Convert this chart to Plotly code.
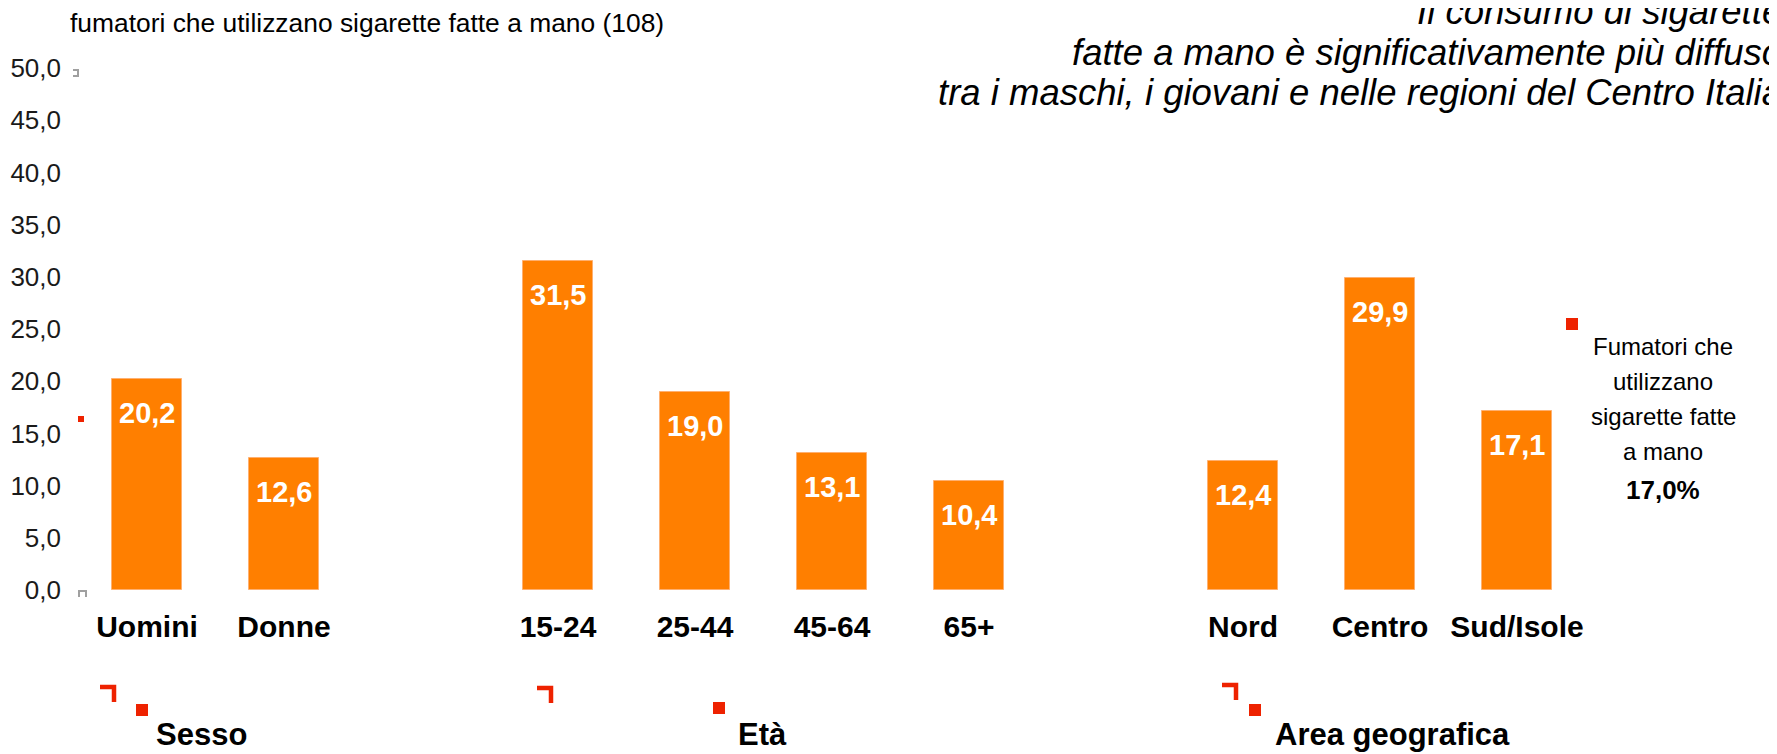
import plotly.graph_objects as go

# ---- data ----
categories = ["Uomini", "Donne", "15-24", "25-44", "45-64", "65+", "Nord", "Centro", "Sud/Isole"]
positions = [0, 1, 3, 4, 5, 6, 8, 9, 10]
values = [20.2, 12.6, 31.5, 19.0, 13.1, 10.4, 12.4, 29.9, 17.1]
value_labels = ["20,2", "12,6", "31,5", "19,0", "13,1", "10,4", "12,4", "29,9", "17,1"]
y_ticks = [0, 5, 10, 15, 20, 25, 30, 35, 40, 45, 50]
y_ticklabels = ["0,0", "5,0", "10,0", "15,0", "20,0", "25,0", "30,0", "35,0", "40,0", "45,0", "50,0"]
groups = ["Sesso", "Età", "Area geografica"]
group_centers = [0.40, 4.49, 9.09]
title_lines = ["Il consumo di sigarette",
               "fatte a mano è significativamente più diffuso",
               "tra i maschi, i giovani e nelle regioni del Centro Italia"]
note_lines = ["Fumatori che", "utilizzano", "sigarette fatte", "a mano", "<b>17,0%</b>"]

ORANGE = "#FF7F00"
RED = "#EE2200"
FONT = "Liberation Sans, Arial, sans-serif"

W, H = 1777, 754
OFF = 8  # default page body margin
L, R, T, B = 62, 63, 60, 172
PW = W - L - R
PH = H - T - B
SLOT = 137.0
x0 = -77.0 / SLOT
xrange = [x0, x0 + PW / SLOT]


def px(x, y):
    """screen pixel -> paper coords"""
    return ((x - OFF) - L) / PW, (H - B - (y - OFF)) / PH


fig = go.Figure()
fig.add_trace(go.Bar(
    x=positions, y=values, width=0.51,
    marker=dict(color=ORANGE, line=dict(color="#FFB070", width=1)),
    hoverinfo="skip", showlegend=False,
))

annotations = []
for p, v, lab in zip(positions, values, value_labels):
    annotations.append(dict(x=p, y=v, xref="x", yref="y", text="<b>" + lab + "</b>",
                            showarrow=False, yanchor="top", yshift=-16,
                            font=dict(family=FONT, size=29, color="white")))

_, gy = px(0, 734)
for g, c in zip(groups, group_centers):
    annotations.append(dict(x=c, y=gy, xref="x", yref="paper", text="<b>" + g + "</b>",
                            showarrow=False, xanchor="center", yanchor="middle",
                            font=dict(family=FONT, size=31, color="black")))

# subtitle
sx, sy = px(68, 23)
annotations.append(dict(x=sx, y=sy, xref="paper", yref="paper", showarrow=False,
                        text="fumatori che utilizzano sigarette fatte a mano (108)",
                        xanchor="left", yanchor="middle",
                        font=dict(family=FONT, size=26.4, color="black")))

# italic headline, right aligned lines (clipped by the page edge as in the original)
for line, ly in zip(title_lines, [12, 53, 93]):
    ax, ay = px(1784, ly)
    annotations.append(dict(x=ax, y=ay, xref="paper", yref="paper", showarrow=False,
                            text="<i>" + line + "</i>", xanchor="right", yanchor="middle",
                            font=dict(family=FONT, size=36.5, color="black")))

# side note
for line, ly in zip(note_lines, [346, 381, 416, 451, 490]):
    ax, ay = px(1663, ly)
    annotations.append(dict(x=ax, y=ay, xref="paper", yref="paper", showarrow=False,
                            text=line, xanchor="center", yanchor="middle",
                            font=dict(family=FONT, size=24 if "<b>" not in line else 26,
                                      color="black")))

shapes = []


def rect(x1, y1, x2, y2, color):
    a, b = px(x1, y1)
    c, d = px(x2, y2)
    shapes.append(dict(type="rect", xref="paper", yref="paper", x0=a, y0=d, x1=c, y1=b,
                       fillcolor=color, line=dict(width=0), layer="above"))


def path(points, color, width):
    pts = [px(x, y) for x, y in points]
    d = "M " + " L ".join(f"{a},{b}" for a, b in pts)
    shapes.append(dict(type="path", xref="paper", yref="paper", path=d,
                       line=dict(color=color, width=width), layer="above"))


# corner marks + squares under groups
for (cx, cy), (sx1, sy1) in [((100, 687), (136, 704)), ((537, 688), (713, 702)), ((1222, 685), (1249, 704))]:
    path([(cx, cy), (cx + 14, cy), (cx + 14, cy + 15)], RED, 4.5)
    rect(sx1, sy1, sx1 + 12, sy1 + 12, RED)

rect(1566, 318, 1578, 330, RED)
rect(78, 416, 84, 422, RED)
path([(79, 597), (79, 591), (86, 591), (86, 597)], "#A0A0A0", 2)
path([(73, 70), (78, 70), (78, 76), (73, 76)], "#A0A0A0", 2)

fig.update_layout(
    width=W, height=H,
    margin=dict(l=L, r=R, t=T, b=B, autoexpand=False),
    paper_bgcolor="white", plot_bgcolor="white",
    bargap=0,
    xaxis=dict(range=xrange, tickvals=positions, ticktext=categories,
               tickfont=dict(family=FONT, size=30, color="black", weight="bold"),
               showgrid=False, zeroline=False, showline=False, ticks="",
               ticklabelstandoff=16, fixedrange=True),
    yaxis=dict(range=[0, 50], tickvals=y_ticks, ticktext=y_ticklabels,
               tickfont=dict(family=FONT, size=26, color="#1a1a1a"),
               showgrid=False, zeroline=False, showline=False, ticks="",
               ticklabelstandoff=8, fixedrange=True),
    annotations=annotations, shapes=shapes,
    font=dict(family=FONT),
)

fig.write_html("out.html")
